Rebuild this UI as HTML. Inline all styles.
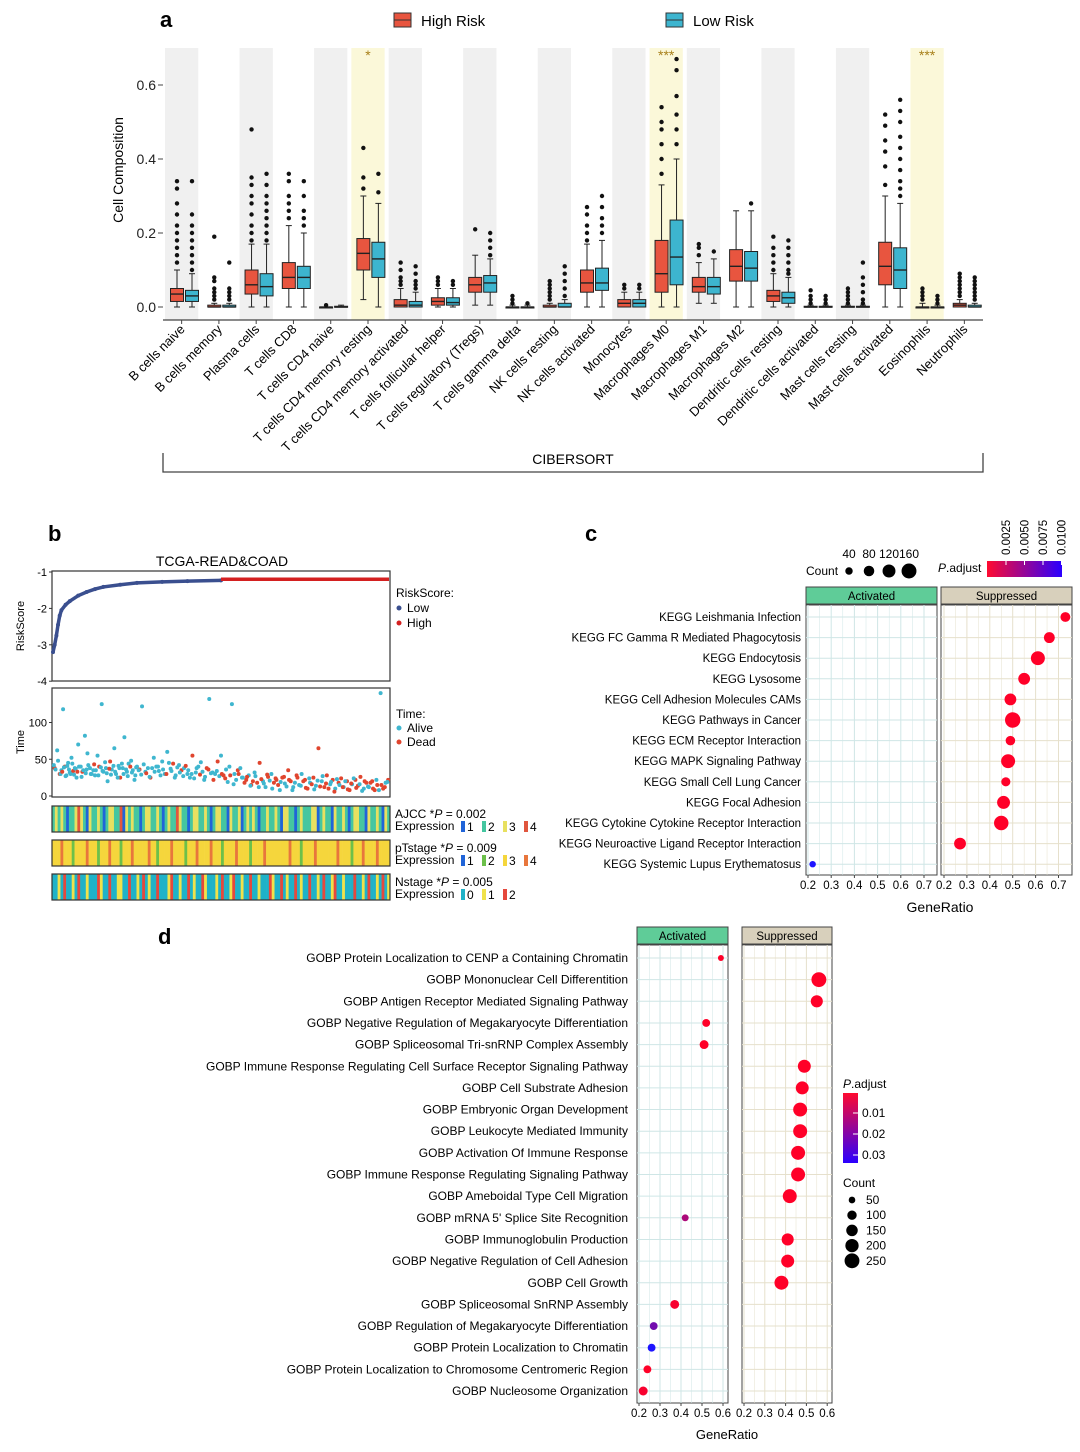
<!DOCTYPE html>
<html><head><meta charset="utf-8"><style>
body{margin:0;background:#fff}
svg{display:block;font-family:"Liberation Sans",sans-serif}
</style></head><body>
<svg id="fig" width="1080" height="1452" viewBox="0 0 1080 1452" xmlns="http://www.w3.org/2000/svg">
<g id="pa"></g>
<g id="pb"></g>
<g id="pc"></g>
<g id="pd"></g>
</svg>
<script>
// ---------- Panel a data ----------
const cellTypes=["B cells naive","B cells memory","Plasma cells","T cells CD8","T cells CD4 naive","T cells CD4 memory resting","T cells CD4 memory activated","T cells follicular helper","T cells regulatory (Tregs)","T cells gamma delta","NK cells resting","NK cells activated","Monocytes","Macrophages M0","Macrophages M1","Macrophages M2","Dendritic cells resting","Dendritic cells activated","Mast cells resting","Mast cells activated","Eosinophils","Neutrophils"];
const highStats=[[0,0.015,0.035,0.05,0.1],[0,0,0,0.005,0.01],[0,0.035,0.06,0.1,0.17],[0,0.05,0.08,0.12,0.22],[0,0,0,0,0],[0.02,0.1,0.145,0.185,0.3],[0,0,0.005,0.02,0.05],[0,0.005,0.015,0.025,0.05],[0.005,0.04,0.06,0.08,0.14],[0,0,0,0,0.005],[0,0,0,0.005,0.01],[0,0.04,0.065,0.1,0.17],[0,0,0.01,0.02,0.04],[0,0.04,0.09,0.18,0.33],[0.01,0.04,0.055,0.08,0.12],[0,0.07,0.11,0.155,0.26],[0,0.015,0.03,0.045,0.09],[0,0,0,0.002,0.005],[0,0,0,0.002,0.005],[0,0.06,0.11,0.175,0.3],[0,0,0,0,0.01],[0,0,0.005,0.01,0.02]];
const lowStats=[[0,0.015,0.03,0.045,0.09],[0,0,0,0.005,0.01],[0,0.03,0.055,0.09,0.17],[0,0.05,0.08,0.11,0.2],[0,0,0,0.002,0.005],[0,0.08,0.13,0.175,0.28],[0,0,0.005,0.015,0.04],[0,0.005,0.012,0.025,0.05],[0.005,0.04,0.065,0.085,0.13],[0,0,0,0,0.005],[0,0,0,0.01,0.02],[0,0.045,0.065,0.105,0.18],[0,0,0.01,0.02,0.04],[0,0.06,0.135,0.235,0.4],[0.01,0.035,0.055,0.08,0.13],[0,0.07,0.105,0.15,0.26],[0,0.01,0.025,0.04,0.08],[0,0,0,0.002,0.005],[0,0,0,0.002,0.005],[0,0.05,0.1,0.16,0.28],[0,0,0,0,0.005],[0,0,0,0.005,0.01]];
const highOut=[[0.12,0.14,0.16,0.18,0.2,0.22,0.25,0.28,0.32,0.34],[0.02,0.03,0.04,0.05,0.07,0.08,0.19],[0.18,0.2,0.22,0.25,0.28,0.3,0.33,0.35,0.48],[0.24,0.26,0.28,0.3,0.34,0.36],[0.005],[0.32,0.35,0.43],[0.06,0.07,0.08,0.1,0.12],[0.06,0.07,0.08],[0.21],[0.01,0.02,0.03],[0.02,0.03,0.04,0.05,0.06,0.07],[0.18,0.2,0.22,0.25,0.27],[0.05,0.06],[0.36,0.4,0.44,0.48,0.5,0.54],[0.14,0.16,0.17],[],[0.1,0.12,0.14,0.16,0.19],[0.01,0.02,0.03,0.045],[0.01,0.02,0.03,0.04,0.05],[0.33,0.38,0.42,0.45,0.49,0.52],[0.02,0.03,0.04,0.05],[0.03,0.04,0.05,0.06,0.07,0.08,0.09]];
const lowOut=[[0.1,0.12,0.14,0.16,0.18,0.2,0.22,0.25,0.34],[0.02,0.03,0.04,0.05,0.12],[0.18,0.2,0.22,0.24,0.26,0.28,0.3,0.33,0.36],[0.22,0.24,0.26,0.3,0.34],[],[0.31,0.36],[0.05,0.06,0.07,0.09,0.11],[0.06,0.07],[0.14,0.16,0.18,0.2],[0.01],[0.03,0.05,0.07,0.09,0.11],[0.2,0.22,0.24,0.27,0.3],[0.05,0.06],[0.44,0.48,0.52,0.57,0.64,0.67],[0.15],[0.28],[0.09,0.1,0.12,0.14,0.16,0.18],[0.01,0.02,0.03],[0.01,0.02,0.04,0.06,0.08,0.12],[0.3,0.32,0.34,0.37,0.4,0.43,0.46,0.5,0.53,0.56],[0.01,0.02,0.03],[0.02,0.03,0.04,0.05,0.06,0.07,0.08]];
const sigMarks={5:"*",13:"***",20:"***"};
const yTicksA=[0,0.2,0.4,0.6];

// ---------- Panel b data ----------
const riskIdx=[0,2,4,6,8,10,15,20,30,40,50,60,80,100,130,160,200];
const riskVal=[-3.2,-3.0,-2.75,-2.45,-2.2,-2.05,-1.9,-1.8,-1.65,-1.55,-1.47,-1.41,-1.35,-1.3,-1.27,-1.25,-1.23];
const riskHighVal=-1.2;
const timeIdx=[2,5,8,10,12,14,16,18,20,22,24,26,28,30,33,35,38,40,42,45,48,50,53,55,58,60,63,65,68,70,73,75,78,80,83,85,88,90,93,95,98,100,103,106,110,113,116,120,123,126,130,133,136,140,143,146,150,153,156,160,163,166,170,173,176,180,183,186,190,193,196,200,203,206,210,213,216,220,223,226,230,233,236,240,243,246,250,253,256,260,263,266,270,273,276,280,283,286,290,293,296,300,303,306,310,313,316,320,323,326,330,333,336,340,343,346,350,353,356,360,363,366,370,373,376,380,383,386,390,393,396,399];
const timeVal=[38,62,30,35,118,40,28,45,32,52,34,38,25,70,40,33,82,36,42,30,35,28,55,40,125,33,38,20,47,36,65,30,41,25,38,80,33,44,48,35,28,40,36,122,33,38,25,52,40,34,47,30,60,37,44,28,42,35,38,30,25,55,32,40,46,22,38,132,32,30,47,55,28,36,40,125,30,35,38,25,22,28,15,32,18,45,20,12,26,30,18,22,8,25,17,35,20,12,28,15,30,22,10,18,25,14,65,20,12,28,16,22,10,18,24,12,20,8,16,22,14,26,10,18,12,20,8,15,140,10,18,22];
const timeStatus="10100100001000010000"+"00010000100001000000"+"00100010000000100100"+"01000010001010000100"+"10101100101101011010"+"01101010110101101101"+"110101110101";
const timeIdxB=[1,3,6,9,11,13,15,17,19,21,23,25,27,29,31,34,36,39,41,44,46,49,51,54,57,59,62,64,67,69,72,74,77,79,82,84,87,89,92,94,97,99,102,105,108,111,115,118,121,125,128,131,135,138,141,145,148,151,155,158,161,165,168,171,175,178,181,185,188,191,195,198,201,205,208,211,215,218,221,225,228,231,235,238,241,245,248,251,255,258,261,265,268,271,275,278,281,285,288,291,295,298,301,305,308,311,315,318,321,325,328,331,335,338,341,345,348,351,355,358,361,365,368,371,375,378,381,385,388,391,395,398];
const timeValB=[42,36,48,30,33,39,27,41,36,30,44,29,37,33,40,26,35,31,58,38,30,43,35,28,39,34,46,31,37,29,41,33,25,38,44,30,36,27,40,32,22,39,35,29,43,31,26,38,33,40,28,36,30,45,34,25,39,32,27,41,35,30,24,38,29,33,26,36,31,22,34,27,30,24,19,28,16,22,30,25,18,26,14,20,27,12,23,17,29,21,10,24,15,19,26,13,22,8,18,25,14,20,11,24,16,9,21,13,27,17,10,19,6,23,15,12,20,9,17,24,11,16,7,20,13,18,10,22,8,15,12,19];
const timeStatusB="0000100000000100000001000000100000000010000001000000100000010000"+"1001010011010010110100101001101010010110100101101001011010010110"+"0110";
const ajcc="232321223432132232123322413232212332232123224322123322321233221322312323212232232133221232223312322132232123322132232132";
const ptStage="333433323333433323334333233343333343323333433332333433334333233334333323333433333333433323333433333334333323334333343333";
const nStage="001020010200100021002001100200102010020001200100201002100010200120010020010002100201002010020010200120010002001020010201";

// ---------- Panel c data ----------
const keggTerms=["KEGG Leishmania Infection","KEGG FC Gamma R Mediated Phagocytosis","KEGG Endocytosis","KEGG Lysosome","KEGG Cell Adhesion Molecules CAMs","KEGG Pathways in Cancer","KEGG ECM Receptor Interaction","KEGG MAPK Signaling Pathway","KEGG Small Cell Lung Cancer","KEGG Focal Adhesion","KEGG Cytokine Cytokine Receptor Interaction","KEGG Neuroactive Ligand Receptor Interaction","KEGG Systemic Lupus Erythematosus"];
const keggFacet=["S","S","S","S","S","S","S","S","S","S","S","S","A"];
const keggRatio=[0.73,0.66,0.61,0.55,0.49,0.5,0.49,0.48,0.47,0.46,0.45,0.27,0.22];
const keggCount=[70,85,140,100,100,170,65,140,60,120,150,100,30];
const keggPadj=[0.001,0.001,0.001,0.001,0.001,0.001,0.001,0.001,0.001,0.001,0.001,0.001,0.0105];

// ---------- Panel d data ----------
const goTerms=["GOBP Protein Localization to CENP a Containing Chromatin","GOBP Mononuclear Cell Differentition","GOBP Antigen Receptor Mediated Signaling Pathway","GOBP Negative Regulation of Megakaryocyte Differentiation","GOBP Spliceosomal Tri-snRNP Complex Assembly","GOBP Immune Response Regulating Cell Surface Receptor Signaling Pathway","GOBP Cell Substrate Adhesion","GOBP Embryonic Organ Development","GOBP Leukocyte Mediated Immunity","GOBP Activation Of Immune Response","GOBP Immune Response Regulating Signaling Pathway","GOBP Ameboidal Type Cell Migration","GOBP mRNA 5' Splice Site Recognition","GOBP Immunoglobulin Production","GOBP Negative Regulation of Cell Adhesion","GOBP Cell Growth","GOBP Spliceosomal SnRNP Assembly","GOBP Regulation of Megakaryocyte Differentiation","GOBP Protein Localization to Chromatin","GOBP Protein Localization to Chromosome Centromeric Region","GOBP Nucleosome Organization"];
const goFacet=["A","S","S","A","A","S","S","S","S","S","S","S","A","S","S","S","A","A","A","A","A"];
const goRatio=[0.59,0.56,0.55,0.52,0.51,0.49,0.48,0.47,0.47,0.46,0.46,0.42,0.42,0.41,0.41,0.38,0.37,0.27,0.26,0.24,0.22];
const goCount=[40,250,165,70,90,190,190,220,220,220,220,220,55,165,190,220,90,70,70,70,90];
const goPadj=[0.002,0.002,0.002,0.002,0.002,0.002,0.002,0.002,0.002,0.002,0.002,0.002,0.014,0.002,0.002,0.002,0.003,0.022,0.034,0.002,0.003];

const NS="http://www.w3.org/2000/svg";
function el(parent,tag,attrs,text){const e=document.createElementNS(NS,tag);for(const k in attrs)e.setAttribute(k,attrs[k]);if(text!==undefined)e.textContent=text;parent.appendChild(e);return e;}

// ================= Panel A =================
(function(){
const g=document.getElementById('pa');
const x0=163,x1=983,colW=(x1-x0)/cellTypes.length;
const ya=v=>307-v*370;
let t=el(g,'text',{x:160,y:27,'font-size':22,'font-weight':'bold'},'a');

let lg=el(g,'g',{});
el(lg,'rect',{x:394,y:13,width:17,height:14,fill:'#e8553f',stroke:'#333','stroke-width':1});
el(lg,'line',{x1:394,x2:411,y1:20,y2:20,stroke:'#333'});
el(lg,'text',{x:421,y:26,'font-size':15},'High Risk');
lg=el(g,'g',{});
el(lg,'rect',{x:666,y:13,width:17,height:14,fill:'#3db5cf',stroke:'#333','stroke-width':1});
el(lg,'line',{x1:666,x2:683,y1:20,y2:20,stroke:'#333'});
el(lg,'text',{x:693,y:26,'font-size':15},'Low Risk');
cellTypes.forEach((c,i)=>{
  const cx=x0+i*colW;
  let fill=null;
  if(sigMarks[i]!==undefined) fill='#fbf8d9'; else if(i%2===0) fill='#f0f0f0';
  if(fill){const r=el(g,'rect',{x:cx+2,y:48,width:colW-4,height:272,fill:fill});}
  if(sigMarks[i]!==undefined){const s=el(g,'text',{x:cx+colW/2,y:60,'font-size':14,'text-anchor':'middle',fill:'#a8801a'},sigMarks[i]);}
});
el(g,'line',{x1:x0,x2:x1,y1:320,y2:320,stroke:'#444','stroke-width':1.2});
yTicksA.forEach(v=>{const tk=el(g,'text',{x:156,y:ya(v)+5,'font-size':14,'text-anchor':'end',fill:'#222'},v.toFixed(1));
  el(g,'line',{x1:158,x2:163,y1:ya(v),y2:ya(v),stroke:'#444'});});
t=el(g,'text',{x:123,y:170,'font-size':14,'text-anchor':'middle',transform:'rotate(-90 123 170)'},'Cell Composition');

function box(stats,outs,cx,color,name){
  const bg=el(g,'g',{});
  const [lo,q1,md,q3,hi]=stats,w=13;
  el(bg,'line',{x1:cx,x2:cx,y1:ya(lo),y2:ya(hi),stroke:'#222','stroke-width':1});
  el(bg,'line',{x1:cx-3,x2:cx+3,y1:ya(hi),y2:ya(hi),stroke:'#222'});
  el(bg,'line',{x1:cx-3,x2:cx+3,y1:ya(lo),y2:ya(lo),stroke:'#222'});
  el(bg,'rect',{x:cx-w/2,y:ya(q3),width:w,height:Math.max(1,ya(q1)-ya(q3)),fill:color,stroke:'#222','stroke-width':1});
  el(bg,'line',{x1:cx-w/2,x2:cx+w/2,y1:ya(md),y2:ya(md),stroke:'#222','stroke-width':1.4});
  outs.forEach(o=>el(bg,'circle',{cx:cx,cy:ya(o),r:2.2,fill:'#111'}));
}
cellTypes.forEach((c,i)=>{
  const cx=x0+i*colW;
  box(highStats[i],highOut[i],cx+14,'#e8553f','box-high-'+i);
  box(lowStats[i],lowOut[i],cx+29,'#3db5cf','box-low-'+i);
  el(g,'line',{x1:cx+colW/2,x2:cx+colW/2,y1:320,y2:324,stroke:'#444'});
  const lx=cx+colW/2+4,ly=330;
  const lb=el(g,'text',{x:lx,y:ly,'font-size':13,'text-anchor':'end',transform:`rotate(-45 ${lx} ${ly})`},c);
  
});
const br=el(g,'path',{d:`M${x0} 453 V472 H${x1} V453`,fill:'none',stroke:'#444','stroke-width':1.3});

t=el(g,'text',{x:573,y:464,'font-size':14,'text-anchor':'middle'},'CIBERSORT');

})();

// ================= Panel B =================
(function(){
const g=document.getElementById('pb');
const x0=52,x1=390,N=400;
const xb=i=>x0+1+i/N*(x1-x0-2);
const yr=v=>572+(-1-v)*36.4;
const yt=v=>796-v*0.735;
let t=el(g,'text',{x:48,y:541,'font-size':22,'font-weight':'bold'},'b');
t=el(g,'text',{x:222,y:566,'font-size':14,'text-anchor':'middle'},'TCGA-READ&COAD');
el(g,'rect',{x:x0,y:571,width:x1-x0,height:110,fill:'none',stroke:'#333','stroke-width':1.2});
[-1,-2,-3,-4].forEach(v=>{el(g,'text',{x:47,y:yr(v)+4,'font-size':11,'text-anchor':'end'},String(v));el(g,'line',{x1:49,x2:52,y1:yr(v),y2:yr(v),stroke:'#333'});});
t=el(g,'text',{x:24,y:626,'font-size':11,'text-anchor':'middle',transform:'rotate(-90 24 626)'},'RiskScore');
let pts=riskIdx.map((i,k)=>xb(i)+','+yr(riskVal[k])).join(' ');
const rl=el(g,'polyline',{points:pts,fill:'none',stroke:'#3a4f8f','stroke-width':3.5});
riskIdx.forEach((i,k)=>el(g,'circle',{cx:xb(i),cy:yr(riskVal[k]),r:2,fill:'#3a4f8f'}));
const rh=el(g,'line',{x1:xb(riskIdx[riskIdx.length-1]),x2:xb(N),y1:yr(riskHighVal),y2:yr(riskHighVal),stroke:'#d42020','stroke-width':3.5});
el(g,'text',{x:396,y:597,'font-size':12},'RiskScore:');
el(g,'circle',{cx:399,cy:608,r:2.5,fill:'#3a4f8f'});el(g,'text',{x:407,y:612,'font-size':12},'Low');
el(g,'circle',{cx:399,cy:623,r:2.5,fill:'#d42020'});el(g,'text',{x:407,y:627,'font-size':12},'High');
el(g,'rect',{x:x0,y:688,width:x1-x0,height:109,fill:'none',stroke:'#333','stroke-width':1.2});
[0,50,100].forEach(v=>{el(g,'text',{x:47,y:yt(v)+4,'font-size':11,'text-anchor':'end'},String(v));el(g,'line',{x1:49,x2:52,y1:yt(v),y2:yt(v),stroke:'#333'});});
t=el(g,'text',{x:24,y:742,'font-size':11,'text-anchor':'middle',transform:'rotate(-90 24 742)'},'Time');
function drawTime(idx,val,st){
  const n=Math.min(idx.length,val.length);
  for(let k=0;k<n;k++){const c=el(g,'circle',{cx:xb(idx[k]),cy:yt(val[k]),r:2,fill:st[k]==='1'?'#e0452e':'#3fb6cf'});
    }
}
drawTime(timeIdx,timeVal,timeStatus);
drawTime(timeIdxB,timeValB,timeStatusB);
el(g,'text',{x:396,y:718,'font-size':12},'Time:');
el(g,'circle',{cx:399,cy:728,r:2.5,fill:'#3fb6cf'});el(g,'text',{x:407,y:732,'font-size':12},'Alive');
el(g,'circle',{cx:399,cy:742,r:2.5,fill:'#e0452e'});el(g,'text',{x:407,y:746,'font-size':12},'Dead');
const strips=[
 {codes:ajcc,y:806,cols:{'1':'#2064d8','2':'#45c6a0','3':'#e8e060','4':'#e0563e'},label:'AJCC',p:'0.002',leg:['1','2','3','4'],name:'ajcc-heatmap'},
 {codes:ptStage,y:840,cols:{'1':'#2064d8','2':'#6cc04a','3':'#f5d63c','4':'#e8763c'},label:'pTstage',p:'0.009',leg:['1','2','3','4'],name:'ptstage-heatmap'},
 {codes:nStage,y:874,cols:{'0':'#1fb2c8','1':'#f0e24a','2':'#e5483c'},label:'Nstage',p:'0.005',leg:['0','1','2'],name:'nstage-heatmap'}];
strips.forEach(s=>{
  const sg=el(g,'g',{});
  const w=(x1-x0)/s.codes.length;
  for(let k=0;k<s.codes.length;k++) el(sg,'rect',{x:x0+k*w,y:s.y,width:w+0.3,height:26,fill:s.cols[s.codes[k]]});
  el(sg,'rect',{x:x0,y:s.y,width:x1-x0,height:26,fill:'none',stroke:'#333','stroke-width':1.2});
  const tt=el(g,'text',{x:395,y:s.y+12,'font-size':12});
  tt.innerHTML=s.label+' *<tspan font-style="italic">P</tspan> = '+s.p;
  el(g,'text',{x:395,y:s.y+24,'font-size':12},'Expression');
  s.leg.forEach((c,k)=>{const lx=461+k*21;el(g,'rect',{x:lx,y:s.y+15,width:4,height:11,fill:s.cols[c]});el(g,'text',{x:lx+6,y:s.y+25,'font-size':12},c);});
});
})();

function padjColor(p,min,max){let f=Math.min(1,Math.max(0,(p-min)/(max-min)));const r=Math.round(255-f*225),b=Math.round(40+f*215),gg=Math.round(20*f);return `rgb(${r},${gg},${b})`;}
function facet(g,x,y,w,h,title,headFill,gridCol,ticks,xs,rows){
  el(g,'rect',{x:x,y:y-18,width:w,height:17,fill:headFill,stroke:'#444','stroke-width':1});
  el(g,'text',{x:x+w/2,y:y-5,'font-size':11.5,'text-anchor':'middle'},title);
  el(g,'rect',{x:x,y:y,width:w,height:h,fill:'#fff',stroke:'#444','stroke-width':1});
  for(let k=0;k<ticks.length;k++){el(g,'line',{x1:xs(ticks[k]),x2:xs(ticks[k]),y1:y,y2:y+h,stroke:gridCol,'stroke-width':1});
    if(k<ticks.length-1){const m=(ticks[k]+ticks[k+1])/2;el(g,'line',{x1:xs(m),x2:xs(m),y1:y,y2:y+h,stroke:gridCol,'stroke-width':0.5});}
    el(g,'line',{x1:xs(ticks[k]),x2:xs(ticks[k]),y1:y+h,y2:y+h+3,stroke:'#444'});
    el(g,'text',{x:xs(ticks[k]),y:y+h+14,'font-size':11.5,'text-anchor':'middle'},String(ticks[k]));}
  rows.forEach(ry=>el(g,'line',{x1:x,x2:x+w,y1:ry,y2:ry,stroke:gridCol,'stroke-width':1}));
}

// ================= Panel C =================
(function(){
const g=document.getElementById('pc');
let t=el(g,'text',{x:585,y:541,'font-size':22,'font-weight':'bold'},'c');
const ticks=[0.2,0.3,0.4,0.5,0.6,0.7];
const xA=v=>808+(v-0.2)*232, xS=v=>944+(v-0.2)*229;
const rowY=i=>617+i*20.6;
const rows=keggTerms.map((_,i)=>rowY(i));
facet(g,806,605,131,270,'Activated','#5fcc98','#cfe6e6',ticks,xA,rows);
facet(g,941,605,131,270,'Suppressed','#d8d0bc','#e6e0cc',ticks,xS,rows);
t=el(g,'text',{x:940,y:912,'font-size':14,'text-anchor':'middle'},'GeneRatio');
keggTerms.forEach((term,i)=>{
  const lb=el(g,'text',{x:801,y:rowY(i)+4,'font-size':11.5,'text-anchor':'end'},term);
  const cx=keggFacet[i]==='A'?xA(keggRatio[i]):xS(keggRatio[i]);
  const d=el(g,'circle',{cx:cx,cy:rowY(i),r:0.59*Math.sqrt(keggCount[i]),fill:padjColor(keggPadj[i],0.001,0.0105)});
  
});
el(g,'text',{x:806,y:575,'font-size':12},'Count');
[40,80,120,160].forEach((c,k)=>{const cx=849+k*20;el(g,'circle',{cx:cx,cy:571,r:0.59*Math.sqrt(c),fill:'#000'});el(g,'text',{x:cx,y:558,'font-size':12,'text-anchor':'middle'},String(c));});
const tt=el(g,'text',{x:938,y:572,'font-size':12});tt.innerHTML='<tspan font-style="italic">P</tspan>.adjust';
const gd=el(g,'defs',{});const lgr=el(gd,'linearGradient',{id:'gc',x1:0,x2:1,y1:0,y2:0});
el(lgr,'stop',{offset:0,'stop-color':'#ff0a30'});el(lgr,'stop',{offset:1,'stop-color':'#2a00ff'});
el(g,'rect',{x:987,y:561,width:75,height:16,fill:'url(#gc)'});
['0.0025','0.0050','0.0075','0.0100'].forEach((s,k)=>{const x=1006+k*18.5;el(g,'text',{x:x+4,y:555,'font-size':11.5,transform:`rotate(-90 ${x+4} 555)`},s);el(g,'line',{x1:x,x2:x,y1:561,y2:565,stroke:'#fff'});});
})();

// ================= Panel D =================
(function(){
const g=document.getElementById('pd');
let t=el(g,'text',{x:158,y:944,'font-size':22,'font-weight':'bold'},'d');
const ticks=[0.2,0.3,0.4,0.5,0.6];
const xA=v=>639+(v-0.2)*210, xS=v=>744+(v-0.2)*208;
const rowY=i=>958+i*21.65;
const rows=goTerms.map((_,i)=>rowY(i));
facet(g,637,945,91,458,'Activated','#5fcc98','#cfe6e6',ticks,xA,rows);
facet(g,742,945,90,458,'Suppressed','#d8d0bc','#e6e0cc',ticks,xS,rows);
t=el(g,'text',{x:727,y:1439,'font-size':13,'text-anchor':'middle'},'GeneRatio');
goTerms.forEach((term,i)=>{
  const lb=el(g,'text',{x:628,y:rowY(i)+4,'font-size':12,'text-anchor':'end'},term);
  const cx=goFacet[i]==='A'?xA(goRatio[i]):xS(goRatio[i]);
  const d=el(g,'circle',{cx:cx,cy:rowY(i),r:0.47*Math.sqrt(goCount[i]),fill:padjColor(goPadj[i],0.002,0.034)});
  
});
const tt=el(g,'text',{x:843,y:1088,'font-size':12});tt.innerHTML='<tspan font-style="italic">P</tspan>.adjust';
const gd=el(g,'defs',{});const lgr=el(gd,'linearGradient',{id:'gd',x1:0,x2:0,y1:0,y2:1});
el(lgr,'stop',{offset:0,'stop-color':'#ff0a30'});el(lgr,'stop',{offset:1,'stop-color':'#2a00ff'});
el(g,'rect',{x:843,y:1093,width:15,height:70,fill:'url(#gd)'});
['0.01','0.02','0.03'].forEach((s,k)=>{const y=1113+k*21;el(g,'text',{x:862,y:y+4,'font-size':12},s);el(g,'line',{x1:853,x2:858,y1:y,y2:y,stroke:'#fff'});});
el(g,'text',{x:843,y:1187,'font-size':12},'Count');
[50,100,150,200,250].forEach((c,k)=>{const y=1200+k*15.2;el(g,'circle',{cx:852,cy:y,r:0.47*Math.sqrt(c),fill:'#000'});el(g,'text',{x:866,y:y+4,'font-size':12},String(c));});
})();
</script>
</body></html>
